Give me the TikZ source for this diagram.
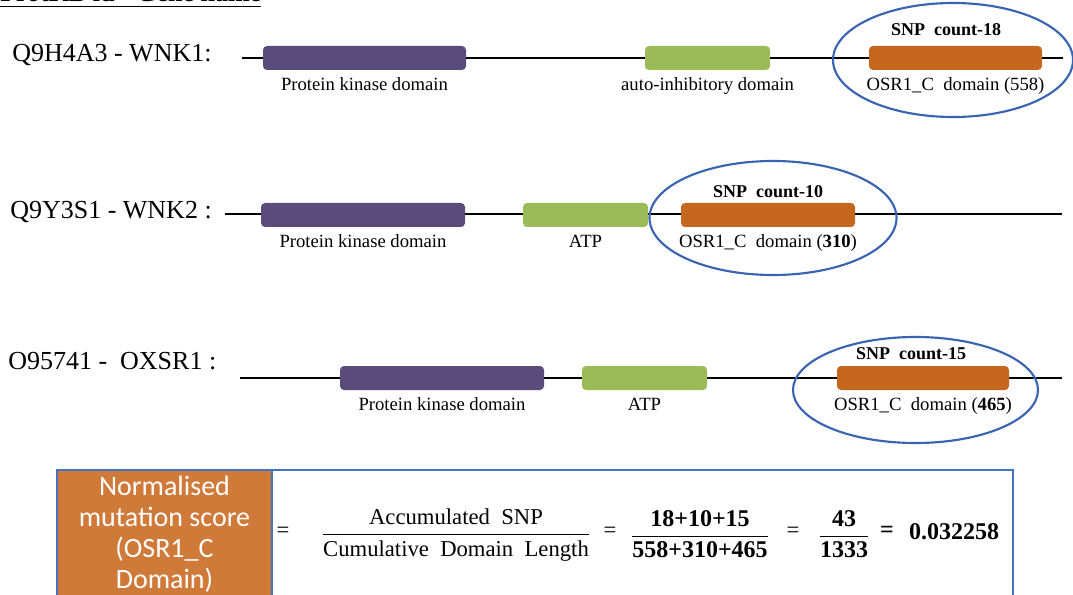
\documentclass[tikz,border=0pt]{standalone}
\usepackage{fontspec}
\usepackage{amsmath}
\setmainfont{Liberation Serif}
\newfontfamily\scorefont{Carlito}
\usetikzlibrary{positioning,shapes.geometric}
\definecolor{kinase}{RGB}{91,75,122}
\definecolor{inhib}{RGB}{155,187,89}
\definecolor{osr}{RGB}{197,103,30}
\definecolor{scorebg}{RGB}{208,122,58}
\definecolor{ringblue}{RGB}{56,100,178}
\definecolor{frameblue}{RGB}{68,114,196}

\begin{document}
\begin{tikzpicture}[x=0.75pt,y=-0.75pt,
  backbone/.style={line width=1.2pt},
  dombox/.style={rounded corners=3pt, minimum height=18pt, inner sep=0pt},
  domlbl/.style={font=\fontsize{14}{16}\selectfont, inner sep=0pt, below=5.5pt of #1},
  snplbl/.style={font=\bfseries\fontsize{13.5}{16}\selectfont, inner sep=0pt},
  genelbl/.style={font=\fontsize{19.5}{22}\selectfont, anchor=west, inner sep=0pt},
  ring/.style={draw=ringblue, line width=1.6pt, ellipse, inner sep=0pt},
  eqtxt/.style={font=\fontsize{17}{20}\selectfont, inner sep=0pt},
  eqbold/.style={font=\bfseries\fontsize{18}{21}\selectfont, inner sep=0pt}
]
\useasboundingbox (0,0) rectangle (1073,595);

% header, cut at the top edge
\node[anchor=base west, inner sep=0pt, font=\bfseries\fontsize{19.5}{22}\selectfont] (hdr) at (0,2) {\underline{ProtKB id - Gene name}};

% row 1
\node[genelbl] (g1) at (12,55) {Q9H4A3 - WNK1:};
\coordinate (r1a) at (242,58);
\coordinate (r1b) at (1063,58);
\draw[backbone] (r1a) -- (r1b);
\node[dombox, fill=kinase, minimum width={203*0.75pt}] (k1) at (364.5,58) {};
\node[dombox, fill=inhib, minimum width={125*0.75pt}] (a1) at (707.5,58) {};
\node[dombox, fill=osr, minimum width={173*0.75pt}] (o1) at (955.5,58) {};
\node[domlbl=k1] (k1l) {Protein kinase domain};
\node[domlbl=a1] (a1l) {auto-inhibitory domain};
\node[domlbl=o1] (o1l) {OSR1\_C\ \ domain (558)};
\node[snplbl, above=7pt of o1, xshift=-7pt] (s1) {SNP\ \ count-18};
\node[ring, minimum width=180pt, minimum height=85.5pt] (e1) at (953,60) {};

% row 2
\node[genelbl] (g2) at (10,212) {Q9Y3S1 - WNK2 :};
\coordinate (r2a) at (225,214);
\coordinate (r2b) at (1062,214);
\draw[backbone] (r2a) -- (r2b);
\node[dombox, fill=kinase, minimum width={204*0.75pt}] (k2) at (363,215) {};
\node[dombox, fill=inhib, minimum width={125*0.75pt}] (a2) at (585.5,215) {};
\node[dombox, fill=osr, minimum width={174*0.75pt}] (o2) at (768,215) {};
\node[domlbl=k2] (k2l) {Protein kinase domain};
\node[domlbl=a2] (a2l) {ATP};
\node[domlbl=o2] (o2l) {OSR1\_C\ \ domain (\textbf{310})};
\node[snplbl, above=3.5pt of o2] (s2) {SNP\ \ count-10};
\node[ring, minimum width={247*0.75pt}, minimum height=85.5pt] (e2) at (773,218) {};

% row 3
\node[genelbl] (g3) at (8,361) {O95741 -\ \ OXSR1 :};
\coordinate (r3a) at (240,378);
\coordinate (r3b) at (1062,378);
\draw[backbone] (r3a) -- (r3b);
\node[dombox, fill=kinase, minimum width={204*0.75pt}] (k3) at (442,378) {};
\node[dombox, fill=inhib, minimum width={125*0.75pt}] (a3) at (644.5,378) {};
\node[dombox, fill=osr, minimum width={172*0.75pt}] (o3) at (923,378) {};
\node[domlbl=k3] (k3l) {Protein kinase domain};
\node[domlbl=a3] (a3l) {ATP};
\node[domlbl=o3] (o3l) {OSR1\_C\ \ domain (\textbf{465})};
\node[snplbl, above=4.5pt of o3, xshift=-9pt] (s3) {SNP\ \ count-15};
\node[ring, minimum width={245*0.75pt}, minimum height=79.5pt] (e3) at (915.5,390) {};

% score box
\fill[scorebg] (57,470) rectangle (272,600);
\draw[frameblue, line width=1pt] (272,470) -- (272,600);
\draw[frameblue, line width=2.2pt] (57,600) |- (1013,470) -- (1013,600);
\node[text=white, align=center, inner sep=0pt, font=\scorefont\fontsize{21}{23.25}\selectfont] (score) at (164.5,534.5)
  {Normalised\\mutation score\\(OSR1\_C\\Domain)};

% formula
\node[eqtxt] (eq1) at (283,532) {=};
\node[eqtxt] (f1) at (456,535) {$\dfrac{\text{Accumulated\ \ SNP}}{\text{Cumulative\ \ Domain\ \ Length}}$};
\node[eqtxt] (eq2) at (610,532) {=};
\node[eqbold] (f2) at (700,534) {$\dfrac{\textbf{18+10+15}}{\textbf{558+310+465}}$};
\node[eqtxt] (eq3) at (793,532) {=};
\node[eqbold] (f3) at (844,534) {$\dfrac{\textbf{43}}{\textbf{1333}}$};
\node[eqbold] (eq4) at (887,532) {=};
\node[eqbold] (res) at (954,532) {0.032258};
\end{tikzpicture}
\end{document}
